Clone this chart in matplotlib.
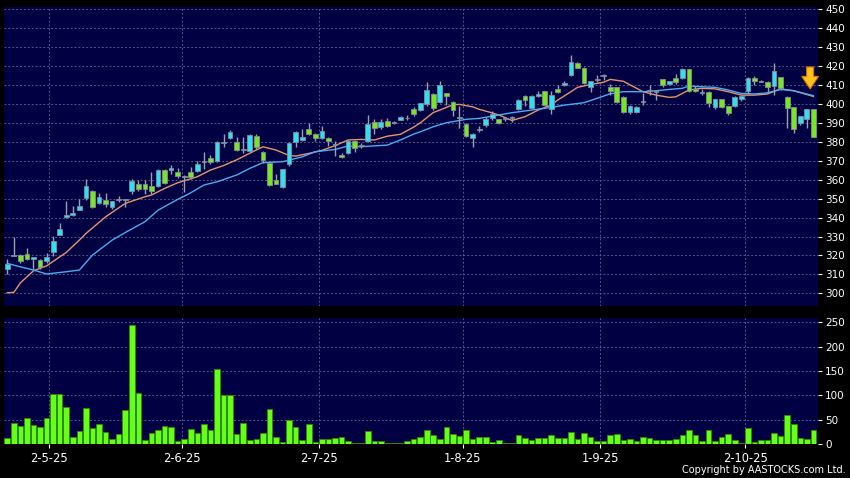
import matplotlib
matplotlib.use('Agg')
import matplotlib.pyplot as plt
import numpy as np

# daily candles (index 0 = first session shown)
opens = [312.6, 320.0, 320.4, 320.6, 317.9, 317.6, 317.2, 322.0, 330.9, 340.1,
         341.2, 344.1, 350.1, 354.2, 347.8, 349.4, 345.4, 349.5, 349.6, 353.8,
         357.8, 357.8, 356.7, 356.7, 365.2, 365.2, 364.3, 361.8, 364.1, 364.6,
         369.6, 371.5, 369.8, 379.4, 382.3, 379.8, 376.0, 375.0, 383.3, 374.5,
         368.6, 359.8, 356.0, 368.3, 380.0, 380.9, 386.6, 384.1, 382.0, 382.3,
         378.6, 373.0, 374.1, 380.6, 377.8, 380.2, 390.3, 387.6, 390.8, 390.2,
         391.5, 392.5, 397.5, 396.6, 400.1, 405.4, 401.0, 405.6, 400.8, 392.8,
         389.7, 382.1, 386.3, 388.7, 392.7, 392.0, 392.1, 392.6, 397.5, 404.0,
         398.0, 404.0, 406.8, 397.1, 407.7, 409.8, 415.1, 421.9, 419.1, 409.1,
         412.8, 414.8, 409.1, 408.8, 403.8, 395.6, 395.9, 401.1, 407.0, 406.3,
         413.0, 410.5, 413.5, 413.5, 418.3, 408.0, 406.0, 406.5, 398.2, 402.5,
         398.9, 398.9, 402.5, 407.0, 413.9, 412.1, 411.8, 409.5, 414.1, 403.8,
         398.2, 389.8, 392.1, 397.2]
highs = [318.1, 329.9, 321.0, 323.7, 319.2, 318.0, 321.1, 330.2, 336.9, 348.7,
         346.1, 349.6, 360.4, 354.5, 353.1, 352.8, 349.0, 351.5, 350.0, 360.2,
         359.9, 359.9, 364.3, 365.6, 365.7, 368.0, 366.1, 362.7, 366.6, 370.1,
         374.5, 373.1, 380.3, 384.2, 386.3, 382.8, 382.4, 384.2, 384.2, 375.4,
         369.0, 363.0, 365.8, 380.0, 385.8, 386.7, 390.1, 384.5, 388.5, 382.7,
         380.6, 373.9, 381.0, 381.0, 379.2, 394.3, 392.0, 392.0, 392.4, 391.0,
         393.8, 394.1, 398.3, 400.6, 411.7, 405.9, 412.1, 406.0, 401.5, 398.9,
         390.0, 384.8, 388.6, 393.0, 396.2, 392.3, 393.2, 393.6, 402.4, 404.5,
         404.7, 406.8, 407.0, 406.8, 409.8, 412.1, 425.8, 422.3, 419.5, 412.4,
         415.2, 415.6, 410.8, 409.0, 404.0, 399.4, 398.9, 406.0, 410.3, 406.8,
         413.3, 412.4, 415.6, 418.8, 418.5, 409.5, 407.7, 407.0, 402.8, 402.8,
         399.2, 404.4, 405.0, 414.5, 415.0, 412.6, 412.2, 421.8, 414.3, 404.0,
         398.5, 393.8, 397.2, 397.5]
lows = [310.0, 319.5, 315.8, 317.5, 312.6, 313.0, 315.8, 319.7, 330.7, 340.0,
        341.0, 344.0, 349.3, 344.9, 347.1, 345.7, 344.3, 348.0, 345.7, 352.4,
        353.9, 352.5, 352.5, 356.4, 357.8, 363.0, 361.0, 353.4, 360.4, 364.0,
        365.7, 368.3, 369.4, 377.5, 381.4, 375.0, 374.2, 374.5, 376.3, 368.7,
        356.5, 357.5, 355.6, 367.5, 377.4, 380.6, 383.8, 380.6, 381.5, 378.0,
        372.7, 371.4, 373.5, 374.4, 376.7, 379.7, 384.1, 386.7, 387.6, 389.5,
        391.3, 391.5, 393.6, 396.2, 398.9, 396.6, 400.4, 399.7, 393.6, 387.1,
        382.7, 377.2, 385.1, 388.1, 391.8, 389.5, 391.0, 390.4, 396.9, 399.2,
        397.5, 403.8, 399.2, 394.5, 405.6, 409.4, 414.7, 418.8, 410.8, 406.3,
        411.7, 412.9, 405.0, 400.6, 395.0, 394.5, 395.3, 399.7, 405.0, 402.0,
        409.0, 409.8, 410.8, 413.0, 406.5, 406.5, 404.7, 398.2, 397.5, 397.8,
        394.4, 398.4, 401.5, 405.4, 410.0, 411.5, 406.0, 404.7, 407.5, 387.5,
        384.8, 389.0, 387.5, 382.7]
closes = [315.6, 320.3, 316.9, 317.9, 319.0, 313.7, 319.0, 327.4, 333.9, 341.2,
          342.4, 345.9, 356.7, 345.4, 351.0, 347.3, 348.7, 349.8, 349.4, 359.1,
          355.0, 355.0, 353.9, 365.2, 358.3, 366.2, 362.0, 361.6, 361.7, 368.5,
          369.9, 369.2, 380.0, 379.8, 385.2, 375.7, 376.2, 383.7, 377.1, 370.5,
          357.0, 357.7, 365.5, 379.5, 385.3, 382.5, 384.1, 381.8, 385.7, 380.4,
          378.4, 371.8, 380.6, 376.7, 378.0, 389.4, 387.1, 390.6, 388.2, 390.4,
          392.9, 392.7, 394.5, 400.3, 407.5, 398.0, 409.8, 404.0, 396.6, 392.6,
          383.2, 384.4, 386.5, 392.3, 394.5, 390.1, 392.3, 392.8, 401.9, 402.2,
          404.1, 405.4, 399.7, 404.5, 406.4, 411.2, 422.3, 419.1, 411.2, 412.1,
          413.0, 415.0, 407.0, 401.2, 395.9, 399.0, 398.6, 401.3, 407.2, 406.5,
          410.0, 412.1, 411.8, 418.3, 407.0, 407.0, 406.2, 400.7, 402.5, 398.5,
          395.4, 403.8, 404.4, 413.5, 412.1, 412.0, 408.8, 417.6, 408.3, 397.7,
          386.6, 393.6, 397.2, 382.7]
volumes = [12, 43, 36, 53, 39, 35, 53, 103, 103, 76,
           15, 27, 75, 33, 41, 24, 10, 20, 70, 244,
           105, 8, 23, 28, 38, 34, 7, 10, 30, 23,
           41, 28, 155, 101, 101, 21, 43, 9, 10, 23,
           71, 14, 5, 50, 34, 8, 41, 4, 11, 10,
           13, 15, 7, 3, 3, 27, 6, 6, 3, 3,
           3, 6, 11, 14, 29, 18, 10, 35, 21, 16,
           28, 10, 15, 15, 4, 8, 3, 3, 18, 12,
           9, 12, 12, 19, 12, 12, 24, 10, 23, 15,
           6, 6, 19, 21, 9, 10, 7, 15, 12, 8,
           8, 8, 10, 18, 29, 19, 7, 29, 7, 14,
           21, 8, 2, 32, 5, 9, 9, 22, 17, 60,
           41, 13, 10, 29]

# moving averages (orange = short, blue = long), sampled along the lines
ma_short_idx = [0, 1, 2, 4, 6, 9, 11, 12, 15, 18, 21, 22, 24, 26, 29, 31, 33, 35,
                37, 39, 41, 43, 44, 46, 48, 50, 52, 54, 56, 58, 60, 62, 63, 65, 66,
                68, 69, 71, 72, 74, 75, 77, 79, 81, 83, 84, 86, 87, 89, 91, 92, 94,
                97, 99, 101, 102, 104, 106, 108, 110, 112, 114, 116, 118, 120, 123]
ma_short = [300.3, 300.5, 305.5, 311.9, 314.5, 321.6, 328.1, 331.6, 340.4, 347.5,
            351.0, 351.9, 355.4, 358.4, 361.6, 365.1, 367.5, 370.5, 374.0, 377.4,
            375.7, 372.8, 372.5, 373.9, 375.5, 378.0, 381.0, 381.3, 381.0, 383.0,
            384.0, 387.8, 390.0, 395.5, 396.8, 399.6, 399.8, 398.5, 397.2, 395.3,
            394.2, 391.3, 393.3, 396.8, 399.5, 402.1, 406.5, 408.8, 410.3, 411.5,
            413.0, 412.0, 406.5, 404.7, 403.5, 403.8, 407.4, 408.3, 408.0, 406.5,
            404.7, 404.7, 405.3, 408.0, 407.0, 404.0]
ma_long_idx = [0, 2, 4, 6, 9, 11, 13, 16, 18, 21, 23, 26, 28, 30, 32, 35, 37, 39,
               40, 42, 45, 47, 50, 52, 54, 56, 58, 60, 62, 63, 65, 67, 70, 72, 74,
               77, 80, 83, 85, 88, 90, 92, 94, 97, 99, 101, 103, 104, 106, 108,
               110, 112, 114, 116, 118, 120, 123]
ma_long = [315.8, 314.0, 312.3, 310.2, 311.4, 312.3, 320.2, 328.1, 332.1, 337.8,
           343.9, 349.6, 353.1, 357.2, 358.9, 362.5, 366.0, 369.0, 369.2, 369.5,
           372.1, 374.8, 376.0, 377.8, 377.4, 377.9, 378.3, 381.0, 384.1, 385.3,
           388.0, 390.1, 391.9, 392.4, 393.6, 395.4, 396.8, 398.2, 399.4, 400.7,
           403.0, 405.4, 406.5, 406.5, 407.0, 407.7, 408.3, 409.5, 409.1, 408.8,
           407.4, 405.6, 405.3, 405.9, 407.7, 407.0, 404.4]

xtick_pos = [6.4, 26.6, 47.5, 69.5, 90.5, 112.6]
xtick_labels = ['2-5-25', '2-6-25', '2-7-25', '1-8-25', '1-9-25', '2-10-25']

bg = '#000042'
grid_col = '#55558c'
cyan = '#30e0f0'
green = '#78e81e'
grey = '#a0a4b0'

fig = plt.figure(figsize=(8.5, 4.78), dpi=100, facecolor='black')
ax = fig.add_axes([4/850, 1-306/478, 814/850, 299.3/478])
axv = fig.add_axes([4/850, 1-444/478, 814/850, 126/478])

for a in (ax, axv):
    a.set_facecolor(bg)
    for s in a.spines.values():
        s.set_visible(False)
    a.grid(True, color=grid_col, ls=(0, (2, 2)), lw=0.7)
    a.set_axisbelow(True)
    a.yaxis.tick_right()
    a.tick_params(axis='y', colors='white', labelsize=7.5, length=3, pad=2)
    a.set_xlim(-0.5, 123.7)
    a.set_xticks(xtick_pos)

x = np.arange(len(closes))
o = np.array(opens)
c = np.array(closes)
up = c > o + 0.3
down = c < o - 0.3
cols = np.where(up, cyan, np.where(down, green, grey))
body = np.maximum(np.abs(c - o), 0.45)
bottom = np.where(up | down, np.minimum(o, c), (o + c) / 2 - 0.225)

ax.plot(ma_short_idx, ma_short, color='#e8946a', lw=1, zorder=1.5)
ax.plot(ma_long_idx, ma_long, color='#48aef0', lw=1, zorder=1.5)
ax.vlines(x, lows, highs, color='#9aa0ae', lw=1, zorder=2)
ax.bar(x, body, bottom=bottom, width=0.72, color=cols,
       edgecolor='#7f8c9c', linewidth=0.6, zorder=3)

# signal arrow above the last session
ax.annotate('', xy=(122.5, 406.5), xytext=(122.5, 421),
            arrowprops=dict(arrowstyle='simple,head_width=1.2,head_length=0.9,tail_width=0.5',
                            fc='#ffc21a', ec='#e07800', lw=0.8), zorder=5)

ax.set_ylim(293.3, 451.4)
ax.set_yticks(range(300, 451, 10))
ax.tick_params(axis='x', length=0, labelbottom=False)

axv.bar(x, volumes, width=0.85, color='#66ff1a', edgecolor='#2e8b00', linewidth=0.6, zorder=3)
axv.set_ylim(0, 259)
axv.set_yticks(range(0, 251, 50))
axv.set_xticklabels(xtick_labels)
axv.tick_params(axis='x', colors='white', labelsize=8.3, length=3, pad=3)

fig.text(846/850, 1-470/478, 'Copyright by AASTOCKS.com Ltd.', ha='right', va='center',
         color='white', fontsize=7)

fig.savefig('out.png', dpi=100, facecolor='black')
